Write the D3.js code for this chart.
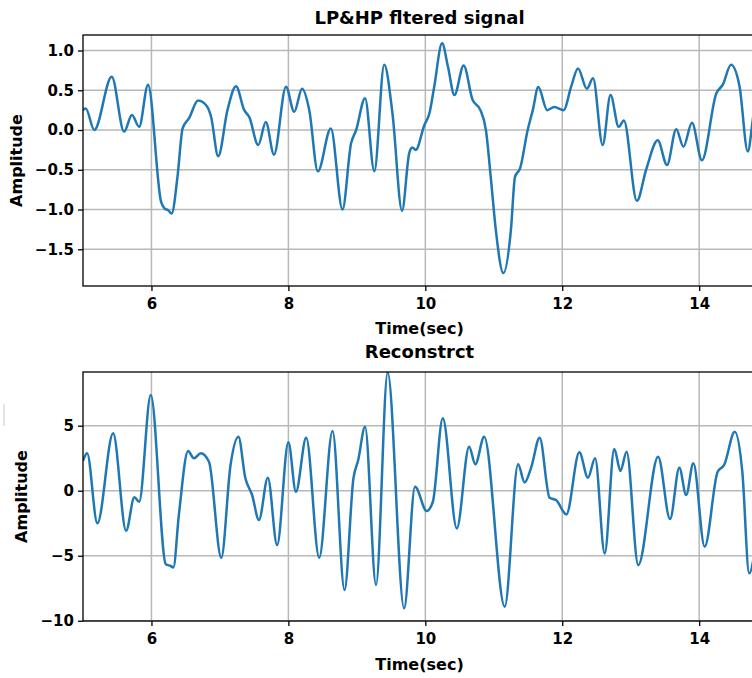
<!DOCTYPE html>
<html>
<head>
<meta charset="utf-8">
<script src="https://cdn.jsdelivr.net/npm/d3@7"></script>
<style>
  body { margin: 0; background: #fff; }
  text { font-family: "DejaVu Sans", sans-serif; font-weight: bold; fill: #000; }
</style>
</head>
<body>
<div id="chart"></div>
<script>
// set svg width and height
const width = 752,
  height = 678;

// tick values shared by both panels
const xTicks = [6, 8, 10, 12, 14];
const topYTicks = [1.0, 0.5, 0.0, -0.5, -1.0, -1.5];
const botYTicks = [5, 0, -5, -10];

// LP&HP filtered signal
const topTime = [5.0, 5.04, 5.165, 5.42, 5.6, 5.715, 5.82, 5.95, 6.14, 6.19, 6.245, 6.295, 6.38, 6.455,
  6.55, 6.68, 6.81, 6.87, 6.975, 7.11, 7.235, 7.355, 7.43, 7.56, 7.67, 7.79, 7.965, 8.085, 8.2, 8.305,
  8.43, 8.62, 8.79, 8.915, 8.99, 9.12, 9.255, 9.4, 9.52, 9.66, 9.765, 9.81, 9.86, 9.985, 10.06, 10.13,
  10.245, 10.33, 10.425, 10.56, 10.69, 10.805, 10.885, 10.96, 11.03, 11.14, 11.25, 11.31, 11.385,
  11.495, 11.57, 11.65, 11.78, 11.885, 12.02, 12.13, 12.23, 12.36, 12.45, 12.59, 12.705, 12.825, 12.9,
  13.09, 13.225, 13.395, 13.53, 13.665, 13.77, 13.895, 14.04, 14.25, 14.345, 14.465, 14.59, 14.71,
  14.79, 14.85];
const topAmp = [0.25, 0.27, 0.0, 0.67, -0.02, 0.19, 0.04, 0.57, -0.9, -0.985, -1.01, -1.05, -0.59, 0.02,
  0.15, 0.37, 0.3, 0.17, -0.33, 0.25, 0.55, 0.25, 0.16, -0.19, 0.1, -0.31, 0.545, 0.23, 0.52, 0.25,
  -0.52, 0.02, -1.0, -0.17, 0.0, 0.4, -0.52, 0.82, 0.21, -1.015, -0.29, -0.22, -0.25, 0.06, 0.21, 0.545,
  1.09, 0.8, 0.44, 0.81, 0.38, 0.25, 0.0, -0.63, -1.26, -1.8, -1.26, -0.59, -0.48,
  0.0, 0.25, 0.54, 0.25, 0.29, 0.25, 0.545, 0.775, 0.52, 0.65, -0.19, 0.44, 0.04, 0.12,
  -0.89, -0.5, -0.13, -0.44, 0.01, -0.21, 0.09, -0.38, 0.46, 0.57, 0.82, 0.545, -0.27,
  0.17, 0.5];

// Reconstrct signal
const botTime = [5.0, 5.06, 5.21, 5.44, 5.63, 5.75, 5.82, 5.99, 6.21, 6.28, 6.32, 6.4, 6.535, 6.62, 6.72,
  6.84, 7.02, 7.155, 7.27, 7.37, 7.47, 7.57, 7.7, 7.835, 8.0, 8.11, 8.26, 8.45, 8.645, 8.82, 8.95, 9.02,
  9.12, 9.28, 9.45, 9.69, 9.85, 10.02, 10.11, 10.255, 10.46, 10.64, 10.73, 10.86, 11.16, 11.355, 11.45,
  11.55, 11.67, 11.815, 11.91, 12.06, 12.25, 12.375, 12.48, 12.62, 12.76, 12.85, 12.94, 13.11, 13.4,
  13.575, 13.71, 13.81, 13.915, 14.08, 14.27, 14.365, 14.52, 14.63, 14.73, 14.85];
const botAmp = [2.3, 2.88, -2.51, 4.41, -3.08, -0.51, -0.85, 7.36, -5.66, -5.79, -5.9, -1.87, 3.05, 2.49, 2.88,
  2.23, -5.15, 1.98, 4.15, 1.0, -0.33, -2.25, 1.0, -4.18, 3.72, -0.08, 4.08, -5.15, 4.59, -7.64, 0.95, 2.36,
  4.92, -7.25, 9.1, -9.05, 0.31, -1.56, -0.85, 5.57, -2.9, 3.38, 2.03, 4.15, -8.92, 2.03, 0.64,
  1.85, 4.08, -0.54, -0.72, -1.82, 2.95, 1.0, 2.49, -4.82, 3.21, 1.52, 3.0, -5.72, 2.62,
  -2.18, 1.77, -0.33, 2.11, -4.31, 1.46, 1.98, 4.54, 1.46, -6.35, -3.0];

const svg = d3.select("#chart")
  .append("svg")
  .attr("width", width)
  .attr("height", height);

// faint stray mark on the left edge of the picture
svg.append("line")
  .attr("x1", 4).attr("x2", 4).attr("y1", 404).attr("y2", 426)
  .attr("stroke", "#ddd8e4").attr("stroke-width", 1.5);

function drawPanel(p) {
  const xScale = d3.scaleLinear().domain([5, 14.83]).range([p.left, p.right]);
  const yScale = d3.scaleLinear().domain(p.yDomain).range([p.bottom, p.top]);

  const g = svg.append("g");

  // grid
  g.selectAll(".gx").data(xTicks).enter().append("line")
    .attr("x1", d => xScale(d)).attr("x2", d => xScale(d))
    .attr("y1", p.top).attr("y2", p.bottom)
    .attr("stroke", "#b8b8b8").attr("stroke-width", 1.5);
  g.selectAll(".gy").data(p.yTicks).enter().append("line")
    .attr("x1", p.left).attr("x2", p.right)
    .attr("y1", d => yScale(d)).attr("y2", d => yScale(d))
    .attr("stroke", "#b8b8b8").attr("stroke-width", 1.5);

  // clip the curve to the axes box
  svg.append("clipPath").attr("id", p.id)
    .append("rect")
    .attr("x", p.left).attr("y", p.top)
    .attr("width", p.right - p.left).attr("height", p.bottom - p.top);

  const data = p.time.map((t, i) => ({ t: t, v: p.amp[i] }));
  const line = d3.line()
    .x(d => xScale(d.t))
    .y(d => yScale(d.v))
    .curve(d3.curveMonotoneX);

  g.append("path")
    .datum(data)
    .attr("clip-path", `url(#${p.id})`)
    .attr("fill", "none")
    .attr("stroke", "#1f77b4")
    .attr("stroke-width", 2.5)
    .attr("stroke-linejoin", "round")
    .attr("d", line);

  // axes
  const xAxis = d3.axisBottom(xScale).tickValues(xTicks).tickFormat(d3.format("d"))
    .tickSize(5).tickPadding(7);
  const yAxis = d3.axisLeft(yScale).tickValues(p.yTicks).tickFormat(p.fmt)
    .tickSize(5).tickPadding(4);

  const gx = g.append("g").attr("transform", `translate(0,${p.bottom})`).call(xAxis);
  const gy = g.append("g").attr("transform", `translate(${p.left},0)`).call(yAxis);
  [gx, gy].forEach(a => {
    a.select(".domain").remove();
    a.selectAll("line").attr("stroke", "#000").attr("stroke-width", 1.3);
    a.selectAll("text").style("font-size", "15px").attr("fill", "#000");
  });

  // frame
  g.append("rect")
    .attr("x", p.left).attr("y", p.top)
    .attr("width", p.right - p.left).attr("height", p.bottom - p.top)
    .attr("fill", "none").attr("stroke", "#000").attr("stroke-width", 1.3);

  // title and labels
  g.append("text")
    .attr("x", (p.left + p.right) / 2).attr("y", p.titleY)
    .attr("text-anchor", "middle")
    .style("font-size", "18px")
    .text(p.title);
  g.append("text")
    .attr("x", (p.left + p.right) / 2).attr("y", p.xLabelY)
    .attr("text-anchor", "middle")
    .style("font-size", "16px")
    .text("Time(sec)");
  g.append("text")
    .attr("transform", `translate(${p.yLabelX},${(p.top + p.bottom) / 2}) rotate(-90)`)
    .attr("text-anchor", "middle")
    .style("font-size", "16px")
    .text("Amplitude");
}

const minus = s => s.replace("-", "\u2212");

drawPanel({
  id: "clipTop", title: "LP&HP fltered signal",
  time: topTime, amp: topAmp, yTicks: topYTicks,
  yDomain: [-1.962, 1.195], fmt: d => minus(d3.format(".1f")(d)),
  left: 83, right: 756, top: 35, bottom: 286,
  titleY: 23.5, xLabelY: 333.5, yLabelX: 21.5
});

drawPanel({
  id: "clipBot", title: "Reconstrct",
  time: botTime, amp: botAmp, yTicks: botYTicks,
  yDomain: [-10.02, 9.13], fmt: d => minus(d3.format("d")(d)),
  left: 83, right: 756, top: 372, bottom: 621,
  titleY: 358, xLabelY: 670, yLabelX: 26.5
});
</script>
</body>
</html>
